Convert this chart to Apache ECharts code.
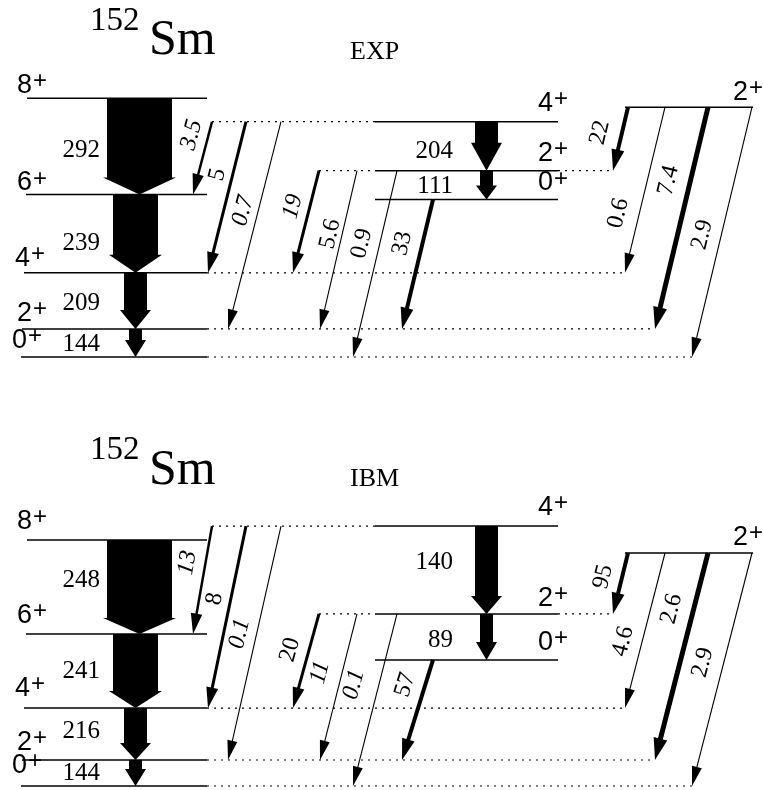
<!DOCTYPE html>
<html><head><meta charset="utf-8">
<script src="https://cdn.jsdelivr.net/npm/echarts@6/dist/echarts.min.js"></script>
<style>html,body{margin:0;padding:0;background:#fff}#c{width:763px;height:790px}</style>
</head><body><div id="c"></div>
<script>
// ================= DATA =================
const levelKeys   = ['g0','g2','g4','g6','g8','b0','b2','b4','y2'];
const levelSpins  = ['0','2','4','6','8','0','2','4','2'];
const expEnergies = [0,122,366,707,1125,685,810,1023,1086];   // keV as drawn
const ibmEnergies = [0,113,339,661,1070,548,748,1130,1013];
const transFrom = ['g8','g6','g4','g2','b4','b2','b4','b4','b4','b2','b2','b2','b0','y2','y2','y2','y2'];
const transTo   = ['g6','g4','g2','g0','b2','b0','g6','g4','g2','g4','g2','g0','g2','b2','g4','g2','g0'];
const expValues = ['292','239','209','144','204','111','3.5','5','0.7','19','5.6','0.9','33','22','0.6','7.4','2.9'];
const ibmValues = ['248','241','216','144','140','89','13','8','0.1','20','11','0.1','57','95','4.6','2.6','2.9'];
const panelTitles = ['EXP','IBM'];
const nucleusMass = '152';
const nucleusSymbol = 'Sm';

// ================= LAYOUT / STYLE =================
const SERIF = '"Liberation Serif","Times New Roman",serif';
const SANS  = '"Liberation Sans",Arial,sans-serif';
const LEVEL_X = [[21,207],[22,207],[24,207],[26,207],[27,207],[375,558],[375,558],[375,558],[625,753]];
const SPIN_X  = [12,17,15,17,17,538,538,538,733];
const SPIN_GAP = [[7,6,5,2,3,7,8,9,5],[11,8,10,9,9,8,6,9,6]];
// band (vertical) arrows: transitions 0..5
const BAND_CX = [139.5,135.5,135.5,135.5,486.5,486.5];
const BAND_W  = [65,45,23,13,23,13];
const BAND_HEAD = [[17,18,19,17,28,14],[16,17,17,17,18,18]];
const BAND_LABEL_RX = [100,100,100,100,453,453];
const BAND_LABEL_T = [[0.54,0.63,0.54,0.57,0.61,0.53],[0.43,0.5,0.45,0.52,0.41,0.57]];
// slanted arrows: transitions 6..16
const SL_X0 = [212,246,281,319,357,397,433,628,665,708,752];
const SL_X1 = [193,208,228,293,320,353,402,613,625,655,692];
const SL_LW = [2.5,3,1.1,3,1.1,1.1,4,4,1.1,5,1.1];
const SL_T  = [[0.18,0.35,0.43,0.35,0.40,0.39,0.34,0.40,0.64,0.33,0.51],
               [0.34,0.40,0.46,0.38,0.40,0.41,0.25,0.39,0.57,0.27,0.47]];
const SL_OFF = [[17,15,15,17,12,18,20,22,21,22,19],[18,16,17,19,22,25,20,19,19,22,21]];
const SL_ITAL = [[1,0,1,1,0,0,0,0,0,0,0],[1,0,1,0,1,1,0,0,0,0,0]];

const panels = [
  {energies: expEnergies, values: expValues, top: 58},
  {energies: ibmEnergies, values: ibmValues, top: 487}
];
const EMAX = 1300, GH = 299;

function buildElems() {
  const elems = [];
  levelKeys.forEach((k, i) => elems.push({kind: 'level', i}));
  transFrom.forEach((k, i) => elems.push({kind: i < 6 ? 'band' : 'slant', i}));
  return elems;
}
const elems = buildElems();

function levelIndex(k) { return levelKeys.indexOf(k); }

function makeRender(p) {
  const P = panels[p];
  const E = k => P.energies[levelIndex(k)];
  return function (params, api) {
    const el = elems[params.dataIndex];
    const children = [];
    const pt = (x, e) => api.coord([x, e]);
    if (el.kind === 'level') {
      const i = el.i, k = levelKeys[i], e = P.energies[i];
      const [x0, x1] = LEVEL_X[i];
      const a = pt(x0, e), b = pt(x1, e);
      children.push({type: 'line', shape: {x1: a[0], y1: a[1], x2: b[0], y2: b[1]},
        style: {stroke: '#000', lineWidth: 1.5}});
      let minX = x0, maxX = x1;
      transFrom.forEach((f, t) => {
        if (t < 6) return;
        const s = t - 6;
        if (f === k) { minX = Math.min(minX, SL_X0[s]); maxX = Math.max(maxX, SL_X0[s]); }
        if (transTo[t] === k) { minX = Math.min(minX, SL_X1[s]); maxX = Math.max(maxX, SL_X1[s]); }
      });
      if (minX < x0) {
        const c = pt(minX, e);
        children.push({type: 'line', shape: {x1: c[0], y1: c[1], x2: a[0], y2: a[1]},
          style: {stroke: '#000', lineWidth: 1.2, lineDash: [2, 5]}});
      }
      if (maxX > x1) {
        const c = pt(maxX, e);
        children.push({type: 'line', shape: {x1: b[0], y1: b[1], x2: c[0], y2: c[1]},
          style: {stroke: '#000', lineWidth: 1.2, lineDash: [2, 5]}});
      }
      const lx = SPIN_X[i];
      const cy = a[1] - SPIN_GAP[p][i] - 9.5;
      children.push({type: 'text', x: lx, y: cy,
        style: {text: levelSpins[i], font: '27px ' + SANS, fill: '#000', align: 'left', verticalAlign: 'middle'}});
      children.push({type: 'text', x: lx + 16, y: cy - 4,
        style: {text: '+', font: '24px ' + SANS, fill: '#000', align: 'left', verticalAlign: 'middle'}});
    } else if (el.kind === 'band') {
      const i = el.i;
      const cx = BAND_CX[i], w = BAND_W[i] / 2, hx = 4, hl = BAND_HEAD[p][i];
      const top = pt(cx, E(transFrom[i])), tip = pt(cx, E(transTo[i]));
      const X = top[0], yT = top[1], yP = tip[1], yH = yP - hl;
      children.push({type: 'polygon', shape: {points: [
        [X - w, yT], [X + w, yT], [X + w, yH], [X + w + hx, yH], [X, yP], [X - w - hx, yH], [X - w, yH]]},
        style: {fill: '#000'}});
      const ly = yT + BAND_LABEL_T[p][i] * (yP - yT);
      const rx = pt(BAND_LABEL_RX[i], 0)[0];
      children.push({type: 'text', x: rx, y: ly,
        style: {text: P.values[i], font: '25px ' + SERIF, fill: '#000', align: 'right', verticalAlign: 'middle'}});
    } else {
      const i = el.i, s = i - 6;
      const a = pt(SL_X0[s], E(transFrom[i])), b = pt(SL_X1[s], E(transTo[i]));
      const dx = b[0] - a[0], dy = b[1] - a[1], L = Math.hypot(dx, dy);
      const ux = dx / L, uy = dy / L, nx = -uy, ny = ux;
      const lw = SL_LW[s], hl = 19 + lw * 0.6, hh = 4.5 + lw * 0.5;
      const bx = b[0] - ux * hl, by = b[1] - uy * hl;
      children.push({type: 'line', shape: {x1: a[0], y1: a[1], x2: bx + ux, y2: by + uy},
        style: {stroke: '#000', lineWidth: lw}});
      children.push({type: 'polygon', shape: {points: [[b[0], b[1]], [bx + nx * hh, by + ny * hh], [bx - nx * hh, by - ny * hh]]},
        style: {fill: '#000'}});
      const t = SL_T[p][s];
      const lx = a[0] + t * dx - SL_OFF[p][s], ly = a[1] + t * dy;
      const ang = Math.atan2(b[1] - a[1], a[0] - b[0]); // direction up along the line, CCW positive
      children.push({type: 'text', x: lx, y: ly, rotation: ang,
        style: {text: P.values[i], font: (SL_ITAL[p][s] ? 'italic ' : '') + '24px ' + SERIF,
          fill: '#000', align: 'center', verticalAlign: 'middle'}});
    }
    return {type: 'group', children};
  };
}

const chart = echarts.init(document.getElementById('c'), null, {renderer: 'canvas', width: 763, height: 790});
const grids = panels.map(P => ({left: 0, width: 763, top: P.top, height: GH, show: false}));
const xAxes = panels.map((P, p) => ({type: 'value', gridIndex: p, min: 0, max: 763, show: false}));
const yAxes = panels.map((P, p) => ({type: 'value', gridIndex: p, min: 0, max: EMAX, show: false}));
const series = panels.map((P, p) => ({
  type: 'custom', xAxisIndex: p, yAxisIndex: p, silent: true, clip: false,
  renderItem: makeRender(p),
  data: elems.map((e, i) => [i, 0])
}));
const titleCY = [[21.5, 40.5, 52.5], [450.5, 470.5, 479]];
const graphics = [];
panels.forEach((P, p) => {
  graphics.push({type: 'text', x: 90, y: titleCY[p][0],
    style: {text: nucleusMass, font: '33px ' + SERIF, fill: '#000', textAlign: 'left', textVerticalAlign: 'middle'}});
  graphics.push({type: 'text', x: 149, y: titleCY[p][1],
    style: {text: nucleusSymbol, font: '50px ' + SERIF, fill: '#000', textAlign: 'left', textVerticalAlign: 'middle'}});
  graphics.push({type: 'text', x: 350, y: titleCY[p][2],
    style: {text: panelTitles[p], font: '26px ' + SERIF, fill: '#000', textAlign: 'left', textVerticalAlign: 'middle'}});
});
chart.setOption({
  animation: false,
  backgroundColor: '#fff',
  grid: grids, xAxis: xAxes, yAxis: yAxes, series,
  graphic: graphics
});
</script></body></html>
